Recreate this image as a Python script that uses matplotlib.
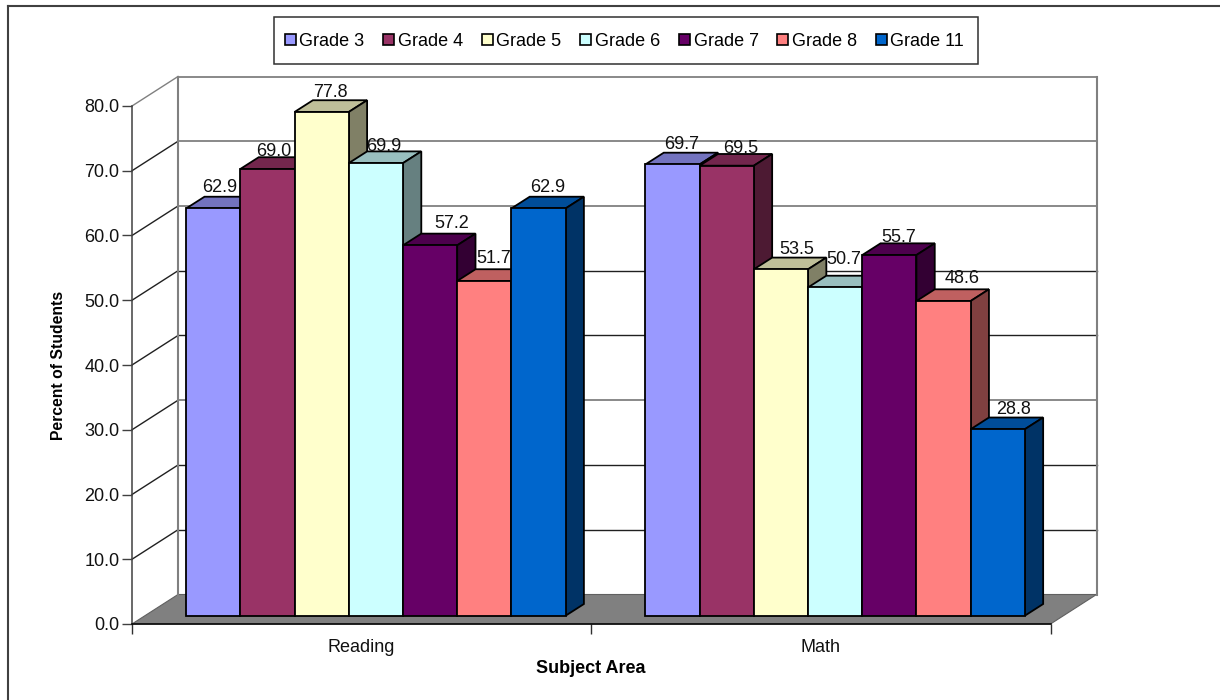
# -*- coding: utf-8 -*-
import matplotlib
matplotlib.use('Agg')
import matplotlib.pyplot as plt
from matplotlib.patches import Patch, Polygon, Rectangle
from matplotlib.colors import to_rgb
from matplotlib.lines import Line2D

plt.rcParams['font.family'] = ['Liberation Sans', 'DejaVu Sans']

categories = ['Reading', 'Math']
grades = ['Grade 3', 'Grade 4', 'Grade 5', 'Grade 6', 'Grade 7', 'Grade 8', 'Grade 11']
reading = [62.9, 69.0, 77.8, 69.9, 57.2, 51.7, 62.9]
math_vals = [69.7, 69.5, 53.5, 50.7, 55.7, 48.6, 28.8]
colors = ['#9999FF', '#993366', '#FFFFCC', '#CCFFFF', '#660066', '#FF8080', '#0066CC']
yticks = [0, 10, 20, 30, 40, 50, 60, 70, 80]

W, H = 1220, 700
fig = plt.figure(figsize=(W / 100, H / 100), dpi=100)
# front plane of the fake 3d box, pixel rect from the reference
ax = fig.add_axes([132 / W, 1 - 624 / H, 918.5 / W, 518 / H])
ax.set_xlim(0, 2)
ax.set_ylim(0, 80)
ax.patch.set_visible(False)

# depth of the box and of the bars, in data units
wall_dx = 46 / 459.25
wall_dy = 29.5 / 6.475
bar_dx = 18.3 / 459.25
bar_dy = 11.7 / 6.475
bar_w = 54.2 / 459.25
bar_base = 8.3 / 6.475

# label nudges in pixels (x from bar centre, y above back edge of bar top)
label_dx = [[6.5, 6.5, 9, 8, 22, 9, 9], [9, 14, 16, 9, 9, 18.7, 16]]
label_dy = [[5, 1, 3.4, 0.6, 6, 6, 5], [4, 1.3, 4, 11.7, 1.7, 6, 3.3]]


def shade(color, f):
    return tuple(c * f for c in to_rgb(color))


# floor
ax.add_patch(Polygon([(0, 0), (2, 0), (2 + wall_dx, wall_dy), (wall_dx, wall_dy)],
                     closed=True, fc='#808080', ec='#606060', lw=0.8, clip_on=False, zorder=1))

# walls
gray_lines = [30, 60, 70, 80]
for v in yticks[1:]:
    c = '#808080' if v in gray_lines else '#202020'
    lw = 1.3 if v in gray_lines else 1.0
    ax.plot([wall_dx, 2 + wall_dx], [v + wall_dy, v + wall_dy], color=c, lw=lw, clip_on=False, zorder=1)
    ax.plot([0, wall_dx], [v, v + wall_dy], color='#808080' if v == 80 else '#202020', lw=1.0,
            clip_on=False, zorder=1)
ax.plot([wall_dx, wall_dx], [wall_dy, 80 + wall_dy], color='#808080', lw=1.5, clip_on=False, zorder=1)
ax.plot([2 + wall_dx, 2 + wall_dx], [wall_dy, 80 + wall_dy], color='#808080', lw=1.5, clip_on=False, zorder=1)

# bars, left to right so each front covers the side of the one before
for k, vals in enumerate([reading, math_vals]):
    for i, v in enumerate(vals):
        x0 = k + bar_w + i * bar_w
        x1 = x0 + bar_w
        top = bar_base + v
        z = 3 + (k * 10 + i) * 0.1
        ax.add_patch(Polygon([(x0, top), (x1, top), (x1 + bar_dx, top + bar_dy), (x0 + bar_dx, top + bar_dy)],
                             closed=True, fc=shade(colors[i], 0.75), ec='black', lw=1.3,
                             clip_on=False, zorder=z))
        ax.add_patch(Polygon([(x1, bar_base), (x1 + bar_dx, bar_base + bar_dy),
                              (x1 + bar_dx, top + bar_dy), (x1, top)],
                             closed=True, fc=shade(colors[i], 0.5), ec='black', lw=1.3,
                             clip_on=False, zorder=z))
        ax.bar(x0, v, width=bar_w, bottom=bar_base, align='edge', color=colors[i],
               edgecolor='black', linewidth=1.3, clip_on=False, zorder=z)
        ax.annotate(f'{v:.1f}', (x0 + bar_w / 2, top + bar_dy),
                    xytext=(label_dx[k][i] * 0.72, label_dy[k][i] * 0.72),
                    textcoords='offset points', ha='center', va='baseline', fontsize=13,
                    color='#111111', zorder=10, annotation_clip=False)

# axes
for s in ['top', 'right']:
    ax.spines[s].set_visible(False)
ax.spines['left'].set_color('#404040')
ax.spines['bottom'].set_color('black')
ax.spines['left'].set_linewidth(1.1)
ax.spines['bottom'].set_linewidth(1.1)
ax.set_yticks(yticks)
ax.set_yticklabels([f'{v:.1f}' for v in yticks], fontsize=13, color='#111111')
ax.tick_params(axis='y', length=7, width=1, color='#404040', pad=2)
ax.set_xticks([0, 1, 2])
ax.set_xticklabels([])
ax.set_xticks([0.5, 1.5], minor=True)
ax.set_xticklabels(categories, minor=True, fontsize=13, color='#111111')
ax.tick_params(axis='x', which='major', length=7, width=1, color='#303030')
ax.tick_params(axis='x', which='minor', length=0, pad=11)
ax.set_xlabel('Subject Area', fontsize=13, fontweight='bold', labelpad=3)
ax.set_ylabel('Percent of Students', fontsize=11.3, fontweight='bold', labelpad=13)

# legend, frame drawn separately so its padding can differ per side
handles = [Patch(fc=c, ec='black', lw=1.2) for c in colors]
fig.add_artist(Rectangle((274 / W, 1 - 64 / H), 704 / W, 47 / H, transform=fig.transFigure,
                         fc='white', ec='#303030', lw=1.1))
leg = fig.legend(handles, grades, ncols=7, loc='center left',
                 bbox_to_anchor=(284.5 / W, 1 - 41.5 / H), bbox_transform=fig.transFigure,
                 fontsize=13, frameon=False,
                 handlelength=0.62, handleheight=0.62, handletextpad=0.2, columnspacing=1.03,
                 borderpad=0, borderaxespad=0)

# outer chart border, runs off the right and bottom of the picture
fig.add_artist(Line2D([8 / W, 8 / W], [0, 1 - 5.5 / H], color='#404040', lw=1.5))
fig.add_artist(Line2D([8 / W, 1], [1 - 5.5 / H, 1 - 5.5 / H], color='#404040', lw=1.5))

fig.savefig('out.png', dpi=100)
